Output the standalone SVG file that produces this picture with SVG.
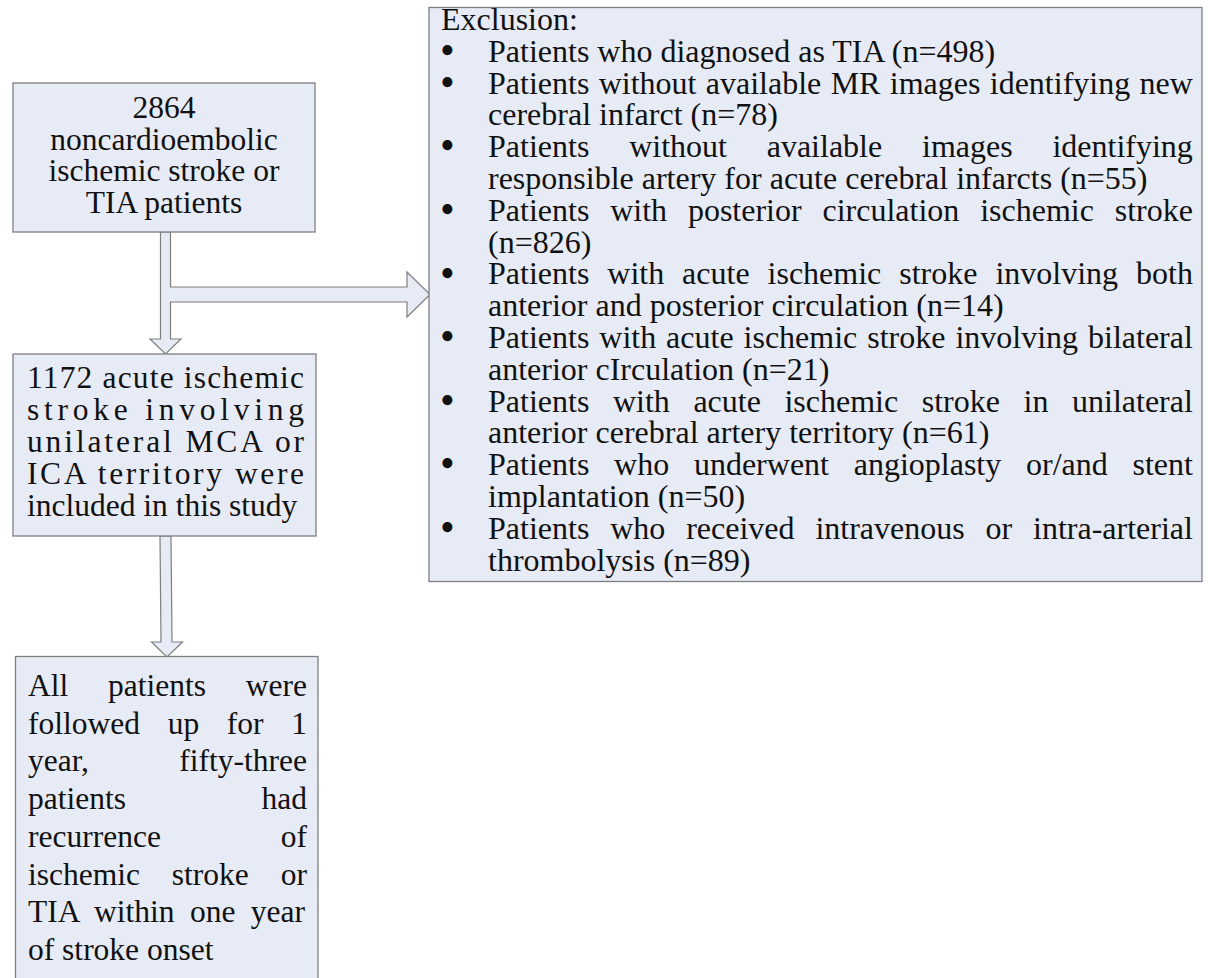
<svg xmlns="http://www.w3.org/2000/svg" width="1208" height="978" viewBox="0 0 1208 978">
<style>
.box{fill:#E7EBF6;stroke:#7F7F7F;stroke-width:1.3}
.arr{fill:#E7EBF6;stroke:#7F7F7F;stroke-width:1.2;stroke-linejoin:miter}
text{font-family:"Liberation Serif","Times New Roman",serif;fill:#111;font-size:31.5px}
.ex text{font-size:32px}
.ex text.b{font-size:42px}
.c{text-anchor:middle}
</style>
<rect width="1208" height="978" fill="#fff"/>
<g id="connectors">
<polygon class="arr" points="160.5,232 170.5,232 170.5,287 407,287 407,272 430,294.5 407,317 407,302 170.5,302 170.5,339 181,339 165.5,354 150,339 160.5,339"/>
<polygon class="arr" points="160,536 171,536 172,642 182.5,642 167,657 151.5,642 161,642"/>
</g>
<g id="node-start">
<rect class="box" x="13" y="83" width="302" height="149"/>
<text class="c" x="164" y="118">2864</text>
<text class="c" x="164" y="149.5">noncardioembolic</text>
<text class="c" x="164" y="181">ischemic stroke or</text>
<text class="c" x="164" y="212.5">TIA patients</text>
</g>
<g id="node-included">
<rect class="box" x="13" y="354" width="303" height="182"/>
<text x="27" y="388" textLength="277" lengthAdjust="spacing">1172 acute ischemic</text>
<text x="27" y="420" textLength="277" lengthAdjust="spacing">stroke involving</text>
<text x="27" y="452" textLength="277" lengthAdjust="spacing">unilateral MCA or</text>
<text x="27" y="484" textLength="277" lengthAdjust="spacing">ICA territory were</text>
<text x="27" y="516">included in this study</text>
</g>
<g id="node-followup">
<rect class="box" x="15.5" y="656.5" width="302.5" height="330"/>
<text x="28" y="696" word-spacing="31.9">All patients were</text>
<text x="28" y="733.7" word-spacing="19.8">followed up for 1</text>
<text x="28" y="771.4">year,</text><text x="307" y="771.4" text-anchor="end">fifty-three</text>
<text x="28" y="809">patients</text><text x="307" y="809" text-anchor="end">had</text>
<text x="28" y="846.8">recurrence</text><text x="307" y="846.8" text-anchor="end">of</text>
<text x="28" y="884.5" word-spacing="24">ischemic stroke or</text>
<text x="28" y="922" word-spacing="7.5">TIA within one year</text>
<text x="28" y="960">of stroke onset</text>
</g>
<g id="node-exclusion" class="ex">
<rect class="box" x="429" y="7.5" width="773" height="574"/>
<text x="441" y="30">Exclusion:</text>
<g>
<text class="b" x="440" y="64">•</text>
<text class="b" x="440" y="95.8">•</text>
<text class="b" x="440" y="159.4">•</text>
<text class="b" x="440" y="223">•</text>
<text class="b" x="440" y="286.6">•</text>
<text class="b" x="440" y="350.2">•</text>
<text class="b" x="440" y="413.8">•</text>
<text class="b" x="440" y="477.4">•</text>
<text class="b" x="440" y="541">•</text>
</g>
<text x="488" y="61.8">Patients who diagnosed as TIA (n=498)</text>
<text x="488" y="93.6" word-spacing="1.35">Patients without available MR images identifying new</text>
<text x="488" y="125.4">cerebral infarct (n=78)</text>
<text x="488" y="157.2" word-spacing="31.8">Patients without available images identifying</text>
<text x="488" y="189">responsible artery for acute cerebral infarcts (n=55)</text>
<text x="488" y="220.8" word-spacing="12.84">Patients with posterior circulation ischemic stroke</text>
<text x="488" y="252.6">(n=826)</text>
<text x="488" y="284.4" word-spacing="9.95">Patients with acute ischemic stroke involving both</text>
<text x="488" y="316.2">anterior and posterior circulation (n=14)</text>
<text x="488" y="348" word-spacing="1.95">Patients with acute ischemic stroke involving bilateral</text>
<text x="488" y="379.8">anterior cIrculation (n=21)</text>
<text x="488" y="411.6" word-spacing="15.58">Patients with acute ischemic stroke in unilateral</text>
<text x="488" y="443.4">anterior cerebral artery territory (n=61)</text>
<text x="488" y="475.2" word-spacing="16.74">Patients who underwent angioplasty or/and stent</text>
<text x="488" y="507">implantation (n=50)</text>
<text x="488" y="538.8" word-spacing="12.86">Patients who received intravenous or intra-arterial</text>
<text x="488" y="570.6">thrombolysis (n=89)</text>
</g>
</svg>
